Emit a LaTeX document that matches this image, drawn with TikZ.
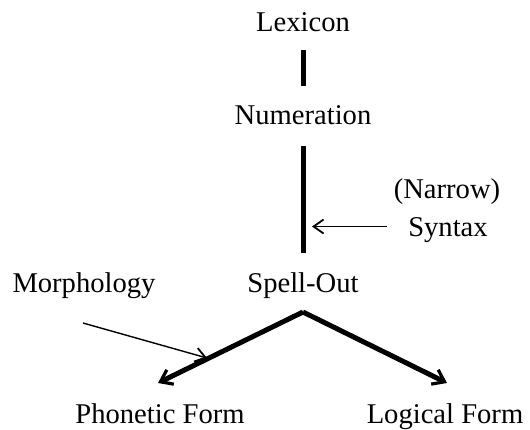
\documentclass[tikz,border=0pt]{standalone}
\usepackage{fontspec}
\setmainfont{Liberation Serif}
\usetikzlibrary{arrows.meta}

\begin{document}
\begin{tikzpicture}[x=0.5pt,y=-0.5pt,
  lbl/.style={anchor=base,inner sep=0pt,text height=9.5pt,text depth=0pt,font=\fontsize{14.3}{17}\selectfont},
  heavy/.style={line width=2.5pt},
  light/.style={line width=0.7pt}]
\useasboundingbox (0,0) rectangle (530,429);

\node[lbl] (lex) at (303,31) {Lexicon};
\node[lbl] (num) at (303,124) {Numeration};
\node[lbl] (spell) at (303,292) {Spell-Out};
\node[lbl] (narrow) at (447,198) {(Narrow)};
\node[lbl] (syn) at (448,236) {Syntax};
\node[lbl] (morph) at (84,292) {Morphology};
\node[lbl] (pf) at (160,423) {Phonetic Form};
\node[lbl] (lf) at (445,423) {Logical Form};

\coordinate (split) at (303,312);
\coordinate (pfend) at (158,383);
\coordinate (lfend) at (447,383);
\coordinate (morphtail) at (83,323);
\coordinate (morphtip) at (207,358);

\path[draw,heavy,shorten <=9.5pt,shorten >=9.5pt] (lex.south) -- (num.north);
\path[draw,heavy,shorten <=11pt,shorten >=10pt] (num.south) -- (spell.north);
\path[draw,light,-{Straight Barb[length=5pt,width=7pt,line width=0.9pt]},shorten <=10.5pt,shorten >=4.5pt] (syn.west) -- (syn.west -| num);

\path[draw,heavy,-{Straight Barb[length=5.5pt,width=8pt,line width=1.6pt]}] (split) -- (pfend);
\path[draw,heavy,-{Straight Barb[length=5.5pt,width=8pt,line width=1.6pt]}] (split) -- (lfend);
\path[draw,light,-{Straight Barb[length=5pt,width=7pt,line width=0.9pt]}] (morphtail) -- (morphtip);
\end{tikzpicture}
\end{document}
